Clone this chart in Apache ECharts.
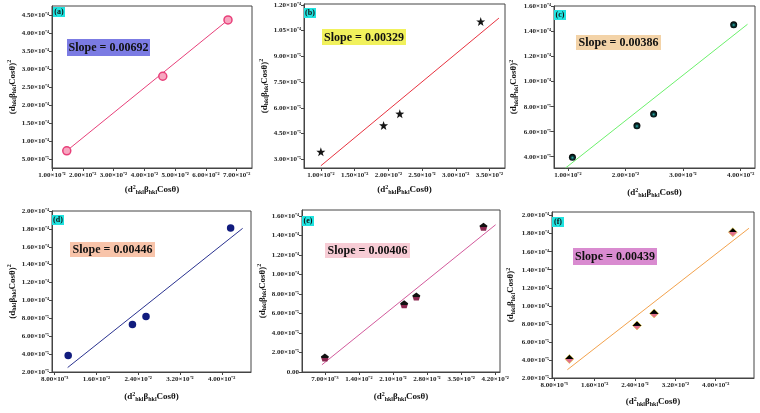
<!DOCTYPE html>
<html><head><meta charset="utf-8">
<script src="https://cdn.jsdelivr.net/npm/echarts@6/dist/echarts.min.js"></script>
<style>html,body{margin:0;padding:0;background:#fff}#c{width:760px;height:413px}</style>
</head><body><div id="c"></div>
<script>
// ---- data ----
const aX = [0.0148, 0.0460, 0.0672];
const aY = [7.3e-5, 2.81e-4, 4.38e-4];
const aFitX = [0.0148, 0.0672];
const aFitY = [7.3e-5, 4.38e-4];
const aXTicks = [0.01, 0.02, 0.03, 0.04, 0.05, 0.06, 0.07];
const aYTicks = [5e-5, 1e-4, 1.5e-4, 2e-4, 2.5e-4, 3e-4, 3.5e-4, 4e-4, 4.5e-4];

const bX = [0.0100, 0.0193, 0.0217, 0.0337];
const bY = [3.44e-5, 4.98e-5, 5.66e-5, 1.103e-4];
const bFitX = [0.0100, 0.0364];
const bFitY = [2.63e-5, 1.123e-4];
const bXTicks = [0.01, 0.015, 0.02, 0.025, 0.03, 0.035];
const bYTicks = [3e-5, 4.5e-5, 6e-5, 7.5e-5, 9e-5, 1.05e-4, 1.2e-4];

const cX = [0.0108, 0.0220, 0.0249, 0.0388];
const cY = [3.95e-5, 6.47e-5, 7.41e-5, 1.456e-4];
const cFitX = [0.0096, 0.0412];
const cFitY = [3.1e-5, 1.459e-4];
const cXTicks = [0.01, 0.02, 0.03, 0.04];
const cYTicks = [4e-5, 6e-5, 8e-5, 1e-4, 1.2e-4, 1.4e-4, 1.6e-4];

const dX = [0.0106, 0.0229, 0.0255, 0.0417];
const dY = [3.85e-5, 7.3e-5, 8.2e-5, 1.81e-4];
const dFitX = [0.0105, 0.0440];
const dFitY = [2.5e-5, 1.806e-4];
const dXTicks = [0.008, 0.016, 0.024, 0.032, 0.04];
const dYTicks = [2e-5, 4e-5, 6e-5, 8e-5, 1e-4, 1.2e-4, 1.4e-4, 1.6e-4, 1.8e-4, 2e-4];

const eX = [0.0070, 0.0233, 0.0258, 0.0396];
const eY = [1.49e-5, 6.95e-5, 7.73e-5, 1.488e-4];
const eFitX = [0.0064, 0.0421];
const eFitY = [7.4e-6, 1.509e-4];
const eXTicks = [0.007, 0.014, 0.021, 0.028, 0.035, 0.042];
const eYTicks = [0, 2e-5, 4e-5, 6e-5, 8e-5, 1e-4, 1.2e-4, 1.4e-4, 1.6e-4];

const fX = [0.0110, 0.0244, 0.0278, 0.0434];
const fY = [4.1e-5, 7.82e-5, 9.15e-5, 1.816e-4];
const fFitX = [0.0106, 0.0466];
const fFitY = [2.92e-5, 1.86e-4];
const fXTicks = [0.008, 0.016, 0.024, 0.032, 0.04];
const fYTicks = [2e-5, 4e-5, 6e-5, 8e-5, 1e-4, 1.2e-4, 1.4e-4, 1.6e-4, 1.8e-4, 2e-4];

const panelLabels = ['(a)', '(b)', '(c)', '(d)', '(e)', '(f)'];
const slopeTexts = ['Slope = 0.00692', 'Slope = 0.00329', 'Slope = 0.00386', 'Slope = 0.00446', 'Slope = 0.00406', 'Slope = 0.00439'];

// ---- helpers ----
const FONT = '"Liberation Serif", "Times New Roman", serif';
const SUP = {'-': '\u207B', '0': '\u2070', '1': '\u00B9', '2': '\u00B2', '3': '\u00B3', '4': '\u2074', '5': '\u2075', '6': '\u2076', '7': '\u2077', '8': '\u2078', '9': '\u2079'};
function sci(v) {
  if (Math.abs(v) < 1e-15) return '0.00';
  const e = Math.floor(Math.log10(Math.abs(v)) + 1e-9);
  const m = v / Math.pow(10, e);
  return m.toFixed(2) + '\u00D710' + String(e).split('').map(c => SUP[c]).join('');
}
const pairs = (xs, ys) => xs.map((x, i) => [x, ys[i]]);

const star = 'path://M0,-10L2.35,-3.24L9.51,-3.09L3.8,1.24L5.88,8.09L0,4L-5.88,8.09L-3.8,1.24L-9.51,-3.09L-2.35,-3.24Z';
const pent = 'path://M0,-10L9.5,-3.1L5.9,8.1L-5.9,8.1L-9.5,-3.1Z';

const panels = [
  {grid: {left: 52, top: 6, width: 200, height: 162}, xr: [0.01, 0.075], yr: [2.5e-5, 4.77e-4], xt: aXTicks, yt: aYTicks,
   pts: pairs(aX, aY), fit: pairs(aFitX, aFitY), line: '#e8407a', sym: 'circle', size: 8,
   mk: {color: '#f7a6c0', borderColor: '#e8407a', borderWidth: 1.5}, yGap: 34, xGap: 16,
   lab: [53, 7], box: [67, 39, 83, 17], boxColor: '#7b7be3'},
  {grid: {left: 304, top: 4, width: 201, height: 164}, xr: [0.0075, 0.0373], yr: [2.5e-5, 1.205e-4], xt: bXTicks, yt: bYTicks,
   pts: pairs(bX, bY), fit: pairs(bFitX, bFitY), line: '#e8323f', sym: star, size: 9,
   mk: {color: '#151515'}, yGap: 33, xGap: 16,
   lab: [304, 8], box: [322, 29, 84, 16], boxColor: '#f1f15c'},
  {grid: {left: 554, top: 6, width: 201, height: 162}, xr: [0.0076, 0.0425], yr: [3.1e-5, 1.605e-4], xt: cXTicks, yt: cYTicks,
   pts: pairs(cX, cY), fit: pairs(cFitX, cFitY), line: '#6cf06c', sym: 'circle', size: 7,
   mk: {color: new echarts.graphic.RadialGradient(0.5, 0.55, 0.5, [{offset: 0, color: '#2ab3b0'}, {offset: 0.45, color: '#0c3a3a'}, {offset: 1, color: '#000'}])},
   yGap: 35, xGap: 19,
   lab: [554, 10], box: [576, 35, 85, 15], boxColor: '#f3d3a8'},
  {grid: {left: 52, top: 211, width: 199, height: 161}, xr: [0.0075, 0.0456], yr: [2e-5, 2e-4], xt: dXTicks, yt: dYTicks,
   pts: pairs(dX, dY), fit: pairs(dFitX, dFitY), line: '#2a3290', sym: 'circle', size: 7.5,
   mk: {color: '#111c7e'}, yGap: 33, xGap: 19,
   lab: [52, 215], box: [70, 242, 85, 15], boxColor: '#f8c4aa'},
  {grid: {left: 302, top: 210, width: 198, height: 162}, xr: [0.0023, 0.043], yr: [0, 1.66e-4], xt: eXTicks, yt: eYTicks,
   pts: pairs(eX, eY), fit: pairs(eFitX, eFitY), line: '#d35a9c', sym: pent, size: 8,
   mk: {color: new echarts.graphic.LinearGradient(0, 0, 0, 1, [{offset: 0, color: '#111'}, {offset: 0.55, color: '#111'}, {offset: 0.56, color: '#8a2850'}, {offset: 1, color: '#8a2850'}])},
   yGap: 31, xGap: 19,
   lab: [302, 216], box: [325, 243, 85, 15], boxColor: '#f7ccd5'},
  {grid: {left: 552, top: 212, width: 202, height: 166}, xr: [0.00755, 0.0476], yr: [2e-5, 2.04e-4], xt: fXTicks, yt: fYTicks,
   pts: pairs(fX, fY), fit: pairs(fFitX, fFitY), line: '#f3a24c', sym: 'diamond', size: 9,
   mk: {color: new echarts.graphic.LinearGradient(0, 0, 0, 1, [{offset: 0, color: '#000'}, {offset: 0.5, color: '#000'}, {offset: 0.51, color: '#e0708c'}, {offset: 1, color: '#e0708c'}]), borderColor: '#e8d040', borderWidth: 0.6},
   yGap: 36, xGap: 18,
   lab: [552, 217], box: [573, 248, 84, 17], boxColor: '#d98bd0'}
];

const subStyle = {fontSize: 6, fontWeight: 'bold', fontFamily: FONT, color: '#111', padding: [5, 0, 0, 0]};
const supStyle = {fontSize: 6, fontWeight: 'bold', fontFamily: FONT, color: '#111', padding: [0, 0, 5, 0]};
const yName = '(d{s|hkl}\u03B2{s|hkl}Cos\u03B8){p|2}';
const xName = '(d{p|2}{s|hkl}\u03B2{s|hkl}Cos\u03B8)';

const grids = [], xAxes = [], yAxes = [], series = [], graphics = [];
panels.forEach((p, i) => {
  grids.push(Object.assign({show: true, borderColor: '#444', borderWidth: 1, backgroundColor: '#fff'}, p.grid));
  const lbl = {fontSize: 7, fontWeight: 'bold', fontFamily: FONT, color: '#222', formatter: v => sci(v)};
  xAxes.push({type: 'value', gridIndex: i, min: p.xr[0], max: p.xr[1],
    axisLine: {show: true, onZero: false, lineStyle: {color: '#444', width: 1}},
    axisTick: {show: true, inside: false, length: 3, customValues: p.xt, lineStyle: {color: '#444'}},
    axisLabel: Object.assign({customValues: p.xt, margin: 4, hideOverlap: false, showMinLabel: true, showMaxLabel: true}, lbl),
    splitLine: {show: false},
    name: xName, nameLocation: 'middle', nameGap: p.xGap,
    nameTextStyle: {fontSize: 9, fontWeight: 'bold', fontFamily: FONT, color: '#111', rich: {s: subStyle, p: supStyle}}
  });
  yAxes.push({type: 'value', gridIndex: i, min: p.yr[0], max: p.yr[1],
    axisLine: {show: true, onZero: false, lineStyle: {color: '#444', width: 1}},
    axisTick: {show: true, inside: false, length: 3, customValues: p.yt, lineStyle: {color: '#444'}},
    axisLabel: Object.assign({customValues: p.yt, margin: 3, hideOverlap: false, showMinLabel: true, showMaxLabel: true}, lbl),
    splitLine: {show: false},
    name: yName, nameLocation: 'middle', nameRotate: 90, nameGap: p.yGap,
    nameTextStyle: {fontSize: 9, fontWeight: 'bold', fontFamily: FONT, color: '#111', rich: {s: subStyle, p: supStyle}}
  });
  series.push({type: 'line', xAxisIndex: i, yAxisIndex: i, data: p.fit, symbol: 'none', clip: true,
    lineStyle: {color: p.line, width: 1}, silent: true, z: 2});
  series.push({type: 'scatter', xAxisIndex: i, yAxisIndex: i, data: p.pts, symbol: p.sym, symbolSize: p.size,
    itemStyle: Object.assign({opacity: 1}, p.mk), z: 3});
  // panel label
  graphics.push({type: 'rect', shape: {x: p.lab[0], y: p.lab[1], width: 12, height: 10}, style: {fill: '#1fe3e0'}, z: 10});
  graphics.push({type: 'text', x: p.lab[0] + 6, y: p.lab[1] + 5, style: {text: panelLabels[i], font: 'bold 8px ' + FONT, fill: '#111', align: 'center', verticalAlign: 'middle'}, z: 11});
  // slope box
  const b = p.box;
  graphics.push({type: 'rect', shape: {x: b[0], y: b[1], width: b[2], height: b[3]}, style: {fill: p.boxColor}, z: 10});
  graphics.push({type: 'text', x: b[0] + b[2] / 2, y: b[1] + b[3] / 2 + 0.5, style: {text: slopeTexts[i], font: 'bold 12px ' + FONT, fill: '#111', align: 'center', verticalAlign: 'middle'}, z: 11});
});

const chart = echarts.init(document.getElementById('c'), null, {renderer: 'canvas'});
chart.setOption({
  animation: false,
  backgroundColor: '#fff',
  grid: grids, xAxis: xAxes, yAxis: yAxes, series: series, graphic: graphics
});
</script></body></html>
